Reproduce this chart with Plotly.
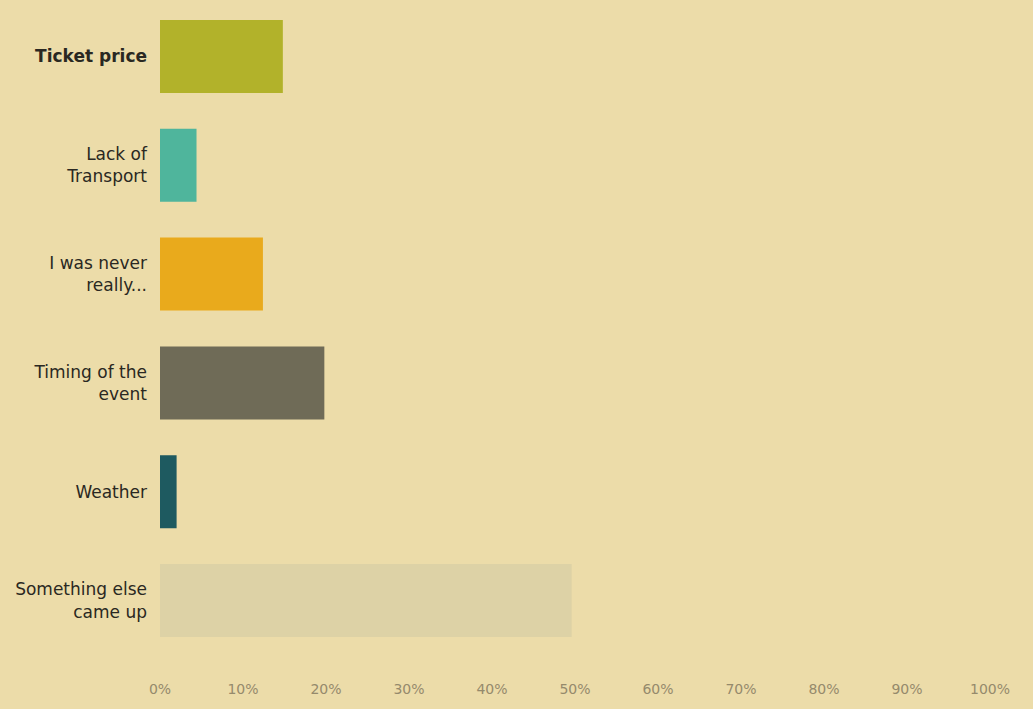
import plotly.graph_objects as go

# Survey: reasons for not attending the event (share of respondents, %)
categories = [
    "<b>Ticket price</b>",
    "Lack of<br>Transport",
    "I was never<br>really...",
    "Timing of the<br>event",
    "Weather",
    "Something else<br>came up",
]
shares = [14.8, 4.4, 12.4, 19.8, 2.0, 49.6]
bar_colors = ["#b2b22a", "#4fb59c", "#e9aa1c", "#6f6b57", "#1e5a60", "#ddd2a6"]
tick_values = [0, 10, 20, 30, 40, 50, 60, 70, 80, 90, 100]
tick_labels = ["0%", "10%", "20%", "30%", "40%", "50%", "60%", "70%", "80%", "90%", "100%"]

fig = go.Figure(
    go.Bar(
        x=shares,
        y=categories,
        orientation="h",
        marker=dict(color=bar_colors, line=dict(width=0)),
        width=0.67,
        hovertemplate="%{y}: %{x:.1f}%<extra></extra>",
    )
)

fig.update_layout(
    width=1033,
    height=709,
    margin=dict(l=160, r=43, t=2, b=54),
    paper_bgcolor="#ecdca9",
    plot_bgcolor="#ecdca9",
    showlegend=False,
    font=dict(family="DejaVu Sans, Verdana, sans-serif", color="#2a2822"),
)

fig.update_xaxes(
    range=[0, 100],
    tickvals=tick_values,
    ticktext=tick_labels,
    showgrid=False,
    zeroline=False,
    showline=False,
    ticks="",
    ticklabelstandoff=24,
    tickfont=dict(size=14, color="#958a6c"),
)

fig.update_yaxes(
    categoryorder="array",
    categoryarray=categories,
    autorange="reversed",
    showgrid=False,
    zeroline=False,
    showline=False,
    ticks="",
    ticklabelstandoff=12,
    tickfont=dict(size=17, color="#2a2822"),
)

fig.write_html("out.html")
